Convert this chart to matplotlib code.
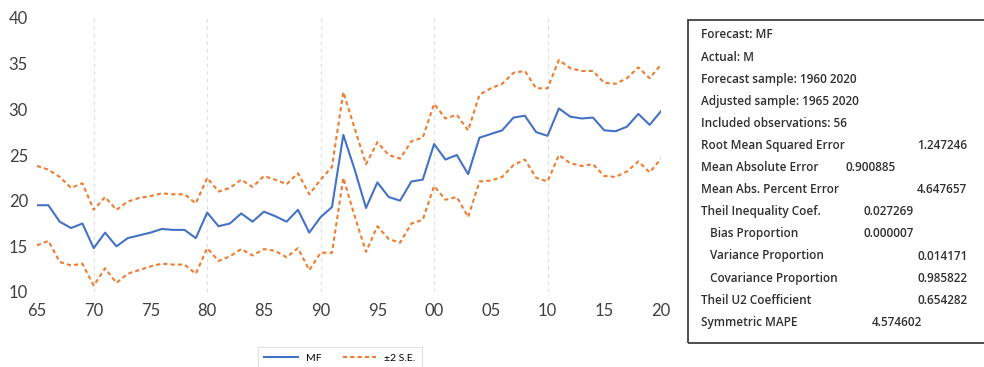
import numpy as np
import matplotlib.pyplot as plt
from matplotlib.patches import Rectangle

plt.rcParams['font.family'] = ['Lato', 'DejaVu Sans']

years = list(range(1965, 2021))

mf = [19.5, 19.5, 17.7, 17.0, 17.5, 14.8, 16.5, 15.0, 15.9, 16.2,
      16.5, 16.9, 16.8, 16.8, 15.9, 18.7, 17.2, 17.5, 18.6, 17.7,
      18.8, 18.3, 17.7, 19.0, 16.5, 18.2, 19.3, 27.2, 23.4, 19.2,
      22.0, 20.4, 20.0, 22.1, 22.3, 26.2, 24.5, 25.0, 22.9, 26.9,
      27.3, 27.7, 29.1, 29.3, 27.5, 27.1, 30.1, 29.2, 29.0, 29.1,
      27.7, 27.6, 28.1, 29.5, 28.3, 29.8]

upper = [23.8, 23.4, 22.6, 21.4, 21.9, 19.0, 20.4, 19.0, 19.9, 20.3,
         20.5, 20.8, 20.7, 20.7, 19.7, 22.5, 21.0, 21.4, 22.3, 21.5,
         22.7, 22.3, 21.8, 23.0, 20.7, 22.3, 23.7, 31.9, 27.9, 24.0,
         26.4, 25.0, 24.6, 26.5, 26.9, 30.6, 29.0, 29.4, 27.7, 31.6,
         32.3, 32.8, 34.0, 34.2, 32.3, 32.3, 35.4, 34.5, 34.2, 34.2,
         32.9, 32.8, 33.4, 34.6, 33.4, 34.9]

lower = [15.1, 15.6, 13.3, 12.9, 13.1, 10.7, 12.6, 11.0, 12.0, 12.4,
         12.8, 13.1, 13.0, 13.0, 12.0, 14.8, 13.4, 13.9, 14.7, 14.0,
         14.7, 14.5, 13.8, 14.8, 12.4, 14.3, 14.3, 22.5, 18.3, 14.4,
         17.2, 15.8, 15.4, 17.5, 17.9, 21.6, 20.1, 20.4, 18.2, 22.1,
         22.2, 22.6, 23.9, 24.5, 22.5, 22.1, 25.0, 24.1, 23.8, 24.0,
         22.7, 22.6, 23.2, 24.3, 23.1, 24.6]

tick_years = list(range(1965, 2021, 5))
grid_years = [1970, 1980, 1990, 2000, 2010]

stats = [
    ("Forecast: MF", None, 0),
    ("Actual: M", None, 0),
    ("Forecast sample: 1960 2020", None, 0),
    ("Adjusted sample: 1965 2020", None, 0),
    ("Included observations: 56", None, 0),
    ("Root Mean Squared Error", "1.247246", 917),
    ("Mean Absolute Error", "0.900885", 845),
    ("Mean Abs. Percent Error", "4.647657", 917),
    ("Theil Inequality Coef.", "0.027269", 863),
    ("   Bias Proportion", "0.000007", 863),
    ("   Variance Proportion", "0.014171", 917),
    ("   Covariance Proportion", "0.985822", 917),
    ("Theil U2 Coefficient", "0.654282", 917),
    ("Symmetric MAPE", "4.574602", 872),
]

W, H = 984, 367
fig = plt.figure(figsize=(W / 100, H / 100), dpi=100)
ax = fig.add_axes([37 / W, 1 - 292 / H, 624 / W, 274 / H])

for g in grid_years:
    ax.axvline(g, color='#e0e0e0', lw=0.9, ls=(0, (3, 3)), zorder=0)

ax.plot(years, mf, color='#4472C4', lw=1.5, label='MF')
ax.plot(years, upper, color='#ED7D31', lw=1.5, ls=(0, (2, 1.5)), label='\u00b12 S.E.')
ax.plot(years, lower, color='#ED7D31', lw=1.5, ls=(0, (2, 1.5)))

ax.set_xlim(1965, 2020)
ax.set_ylim(10, 40)
ax.set_yticks(range(10, 41, 5))
ax.set_xticks(tick_years)
ax.set_xticklabels(['%02d' % (y % 100) for y in tick_years])
for s in ax.spines.values():
    s.set_visible(False)
ax.tick_params(length=0, labelsize=12, colors='#404040')
ax.tick_params(axis='x', pad=8)
ax.tick_params(axis='y', pad=6.5)

leg = fig.legend(loc='upper left', bbox_to_anchor=(253 / W, 1 - 342 / H), ncol=2,
                 fontsize=7.5, frameon=True, fancybox=False, handlelength=3.2,
                 columnspacing=2.0, borderpad=0.6)
leg.get_frame().set_edgecolor('#d9d9d9')
leg.get_frame().set_linewidth(0.8)

# statistics panel on the right
fig.patches.append(Rectangle((688 / W, 1 - 343 / H), 320 / W, 323 / H,
                             transform=fig.transFigure, fill=False,
                             edgecolor='#404040', lw=1.3))
for i, (name, val, vx) in enumerate(stats):
    yy = 1 - (35 + i * 22.1) / H
    fig.text(701 / W, yy, name, fontsize=8.5, va='center', color='#303030',
             family=['Open Sans', 'DejaVu Sans'], weight='semibold')
    if val:
        fig.text(vx / W, yy, val, fontsize=8.5, va='center', color='#303030',
                 family=['Open Sans', 'DejaVu Sans'], weight='semibold')

fig.savefig('out.png', dpi=100)
